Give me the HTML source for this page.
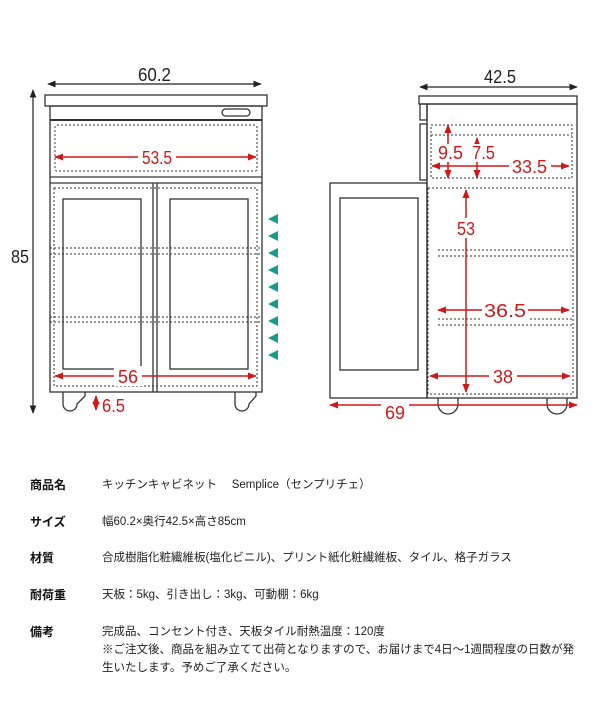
<!DOCTYPE html>
<html><head><meta charset="utf-8"><style>
body{margin:0;background:#fff;width:600px;height:716px;overflow:hidden;position:relative;font-family:"Liberation Sans","Noto Sans CJK JP",sans-serif;}
svg{position:absolute;left:0;top:0}
.t{position:absolute;font-size:11.5px;color:#222;white-space:nowrap;line-height:18px;letter-spacing:0px}
.l{position:absolute;left:30px;font-size:12px;font-weight:bold;color:#111;line-height:18px}
</style></head><body>
<svg width="600" height="460" viewBox="0 0 600 460">
<defs>
<marker id="ak" viewBox="0 0 10 10" refX="9" refY="5" markerWidth="7" markerHeight="7" orient="auto-start-reverse"><path d="M0,1 L10,5 L0,9 z" fill="#222"/></marker>
<marker id="ar" viewBox="0 0 10 10" refX="9" refY="5" markerWidth="6" markerHeight="6" orient="auto-start-reverse"><path d="M0,1 L10,5 L0,9 z" fill="#d01818"/></marker>
</defs>
<g fill="none" stroke="#333" stroke-width="1.3">
<rect x="45" y="95" width="222" height="11"/>
<rect x="50" y="106" width="212" height="286"/>
<rect x="222" y="109" width="28" height="7" rx="3.5"/>
<line x1="50" y1="120" x2="262" y2="120" stroke-width="2"/>
<line x1="50" y1="177" x2="262" y2="177"/>
<line x1="50" y1="183" x2="262" y2="183"/>
<line x1="153" y1="183" x2="153" y2="392"/>
<line x1="157" y1="183" x2="157" y2="392"/>
<rect x="63" y="199" width="78" height="170"/>
<rect x="170" y="199" width="78" height="170"/>
<path d="M63,392 v12 a7,7 0 0 0 14,0 l8,-8 v-4"/>
<path d="M235,392 v12 a7,7 0 0 0 14,0 l7,-8 v-4"/>
</g>
<g fill="none" stroke="#333" stroke-width="1" stroke-dasharray="2,2">
<rect x="55" y="125" width="202" height="46" rx="2"/>
<rect x="54" y="188" width="203" height="198"/>
<line x1="50" y1="248" x2="262" y2="248"/><line x1="50" y1="254" x2="262" y2="254"/>
<line x1="50" y1="317" x2="262" y2="317"/><line x1="50" y1="322" x2="262" y2="322"/>
</g>
<g fill="none" stroke="#333" stroke-width="1.3">
<rect x="419" y="96" width="158" height="8"/>
<rect x="427" y="104" width="150" height="294"/>
<rect x="420" y="104" width="7" height="16"/>
<rect x="420" y="124" width="7" height="56"/>
<rect x="330" y="183" width="97" height="215"/>
<rect x="340" y="198" width="78" height="172"/>
<path d="M438,398 v6 a10,10 0 0 0 20,0 v-6"/>
<path d="M547,398 v6 a10,10 0 0 0 20,0 v-6"/>
</g>
<g fill="none" stroke="#333" stroke-width="1" stroke-dasharray="2,2">
<rect x="431" y="125" width="141" height="53"/>
<line x1="431" y1="135" x2="572" y2="135"/>
<rect x="428" y="188" width="145" height="206"/>
<line x1="438" y1="250" x2="572" y2="250"/><line x1="438" y1="256" x2="572" y2="256"/>
<line x1="438" y1="319" x2="572" y2="319"/><line x1="438" y1="325" x2="572" y2="325"/>
</g>
<g stroke="#222" stroke-width="1.2" marker-start="url(#ak)" marker-end="url(#ak)">
<line x1="48" y1="84" x2="261" y2="84"/>
<line x1="33" y1="90" x2="33" y2="413"/>
<line x1="420" y1="87" x2="577" y2="87"/>
</g>
<g font-size="18" fill="#222" lengthAdjust="spacingAndGlyphs">
<text x="138" y="81" textLength="33" lengthAdjust="spacingAndGlyphs">60.2</text>
<text x="11" y="263" textLength="18" lengthAdjust="spacingAndGlyphs">85</text>
<text x="484" y="83" textLength="32" lengthAdjust="spacingAndGlyphs">42.5</text>
</g>
<g stroke="#d01818" stroke-width="1.5" marker-start="url(#ar)" marker-end="url(#ar)">
<line x1="55" y1="157" x2="256" y2="157"/>
<line x1="55" y1="376" x2="256" y2="376"/>
<line x1="96" y1="396" x2="96" y2="410"/>
<line x1="432" y1="166" x2="569" y2="166"/>
<line x1="448" y1="125" x2="448" y2="178"/>
<line x1="477" y1="138" x2="477" y2="178"/>
<line x1="466" y1="190" x2="466" y2="392"/>
<line x1="438" y1="310" x2="569" y2="310"/>
<line x1="430" y1="376" x2="570" y2="376"/>
<line x1="330" y1="405" x2="577" y2="405"/>
</g>
<g font-size="18" fill="#d01818">
<rect x="138" y="147" width="38" height="20" fill="#fff"/><text x="142" y="164" textLength="30" lengthAdjust="spacingAndGlyphs">53.5</text>
<rect x="114" y="366" width="28" height="20" fill="#fff"/><text x="118" y="383" textLength="20" lengthAdjust="spacingAndGlyphs">56</text>
<text x="102" y="412" textLength="23" lengthAdjust="spacingAndGlyphs">6.5</text>
<rect x="437" y="144" width="26" height="18" fill="#fff"/><text x="438" y="159" textLength="25" lengthAdjust="spacingAndGlyphs">9.5</text>
<rect x="471" y="144" width="26" height="18" fill="#fff"/><text x="472" y="159" textLength="23" lengthAdjust="spacingAndGlyphs">7.5</text>
<rect x="509" y="156" width="42" height="20" fill="#fff"/><text x="512" y="173" textLength="35" lengthAdjust="spacingAndGlyphs">33.5</text>
<rect x="455" y="218" width="24" height="20" fill="#fff"/><text x="457" y="235" textLength="18" lengthAdjust="spacingAndGlyphs">53</text>
<rect x="482" y="300" width="46" height="20" fill="#fff"/><text x="484" y="317" textLength="42" lengthAdjust="spacingAndGlyphs">36.5</text>
<rect x="489" y="366" width="28" height="20" fill="#fff"/><text x="493" y="383" textLength="20" lengthAdjust="spacingAndGlyphs">38</text>
<rect x="381" y="403" width="28" height="18" fill="#fff"/><text x="385" y="419" textLength="20" lengthAdjust="spacingAndGlyphs">69</text>
</g>
<g fill="#1a9a88">
<path d="M268,219 l10,-5 v10z"/><path d="M268,236 l10,-5 v10z"/><path d="M268,253 l10,-5 v10z"/>
<path d="M268,270 l10,-5 v10z"/><path d="M268,287 l10,-5 v10z"/><path d="M268,304 l10,-5 v10z"/>
<path d="M268,321 l10,-5 v10z"/><path d="M268,338 l10,-5 v10z"/><path d="M268,355 l10,-5 v10z"/>
</g>
</svg>
<div class="l" style="top:476px">商品名</div><div class="t" style="left:102px;top:476px">キッチンキャビネット　 Semplice（センプリチェ）</div>
<div class="l" style="top:513px">サイズ</div><div class="t" style="left:102px;top:513px">幅60.2×奥行42.5×高さ85cm</div>
<div class="l" style="top:549px">材質</div><div class="t" style="left:102px;top:549px">合成樹脂化粧繊維板(塩化ビニル)、プリント紙化粧繊維板、タイル、格子ガラス</div>
<div class="l" style="top:586px">耐荷重</div><div class="t" style="left:102px;top:586px">天板：5kg、引き出し：3kg、可動棚：6kg</div>
<div class="l" style="top:623px">備考</div><div class="t" style="left:102px;top:623px">完成品、コンセント付き、天板タイル耐熱温度：120度<br>※ご注文後、商品を組み立てて出荷となりますので、お届けまで4日〜1週間程度の日数が発<br>生いたします。予めご了承ください。</div>
</body></html>
